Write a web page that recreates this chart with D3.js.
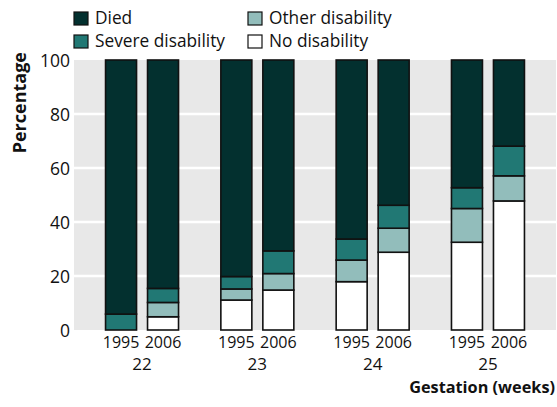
<!DOCTYPE html>
<html>
<head>
<meta charset="utf-8">
<script src="https://cdn.jsdelivr.net/npm/d3@7"></script>
<style>
  body { margin: 0; background: #fff; }
  text { font-family: "Open Sans", "Noto Sans", sans-serif; fill: #111; }
</style>
</head>
<body>
<script>
// gestation weeks and the two cohorts
var weeks = ["22", "23", "24", "25"];
var years = ["1995", "2006"];

// percentages, order: 22/1995, 22/2006, 23/1995, 23/2006, ...
var noDisability     = [0, 4.9, 11.1, 14.8, 17.9, 28.8, 32.5, 47.8];
var otherDisability  = [0, 5.3, 4.1, 6.1, 8.0, 8.9, 12.5, 9.3];
var severeDisability = [5.9, 5.2, 4.6, 8.4, 7.8, 8.5, 7.7, 11.0];
var died             = [94.1, 84.6, 80.2, 70.7, 66.3, 53.8, 47.3, 31.9];

var yTicks = [0, 20, 40, 60, 80, 100];

var keys = ["none", "other", "severe", "died"];
var labels = {died: "Died", severe: "Severe disability", other: "Other disability", none: "No disability"};
var colors = {died: "#03302f", severe: "#217874", other: "#92bdbb", none: "#ffffff"};

// build rows for the stack
var rows = [];
weeks.forEach(function(w, i) {
  years.forEach(function(yr, j) {
    var k = i * 2 + j;
    rows.push({week: w, year: yr, none: noDisability[k], other: otherDisability[k],
               severe: severeDisability[k], died: died[k]});
  });
});

var width = 557, height = 407;
var plot = {left: 74, right: 556, top: 60, bottom: 330};

var svg = d3.select("body").append("svg")
    .attr("width", width)
    .attr("height", height);

var x0 = d3.scaleBand().domain(weeks)
    .range([plot.left, plot.right])
    .paddingInner(0).paddingOuter(0.09);

var x1 = d3.scaleBand().domain(years)
    .range([0, x0.bandwidth()])
    .paddingInner(0.262).paddingOuter(0.504);

var y = d3.scaleLinear().domain([0, 100]).range([plot.bottom, plot.top]);

// grey panel
svg.append("rect")
    .attr("x", plot.left).attr("y", plot.top)
    .attr("width", plot.right - plot.left)
    .attr("height", plot.bottom - plot.top)
    .attr("fill", "#e8e8e8");

// white gridlines
svg.append("g").selectAll("line")
    .data(yTicks.filter(function(t) { return t > 0 && t < 100; }))
    .enter().append("line")
    .attr("x1", plot.left).attr("x2", plot.right)
    .attr("y1", function(d) { return y(d); })
    .attr("y2", function(d) { return y(d); })
    .attr("stroke", "#fff").attr("stroke-width", 2.5);

// y axis
var yAxis = svg.append("g")
    .attr("transform", "translate(" + (plot.left - 4) + ",0)")
    .call(d3.axisLeft(y).tickValues(yTicks).tickSize(0).tickPadding(0));
yAxis.select(".domain").remove();
yAxis.selectAll("text")
    .style("font-size", "17.5px")
    .attr("dy", "0.36em");

svg.append("text")
    .attr("transform", "translate(26,52) rotate(-90)")
    .style("text-anchor", "end")
    .style("font-size", "18px")
    .style("font-weight", "bold")
    .text("Percentage");

// stacked bars
var series = d3.stack().keys(keys)(rows);

svg.append("g").selectAll("g")
    .data(series)
    .enter().append("g")
    .attr("fill", function(d) { return colors[d.key]; })
    .selectAll("rect")
    .data(function(d) { return d.filter(function(s) { return s[1] - s[0] > 0; }); })
    .enter().append("rect")
    .attr("x", function(d) { return x0(d.data.week) + x1(d.data.year); })
    .attr("y", function(d) { return y(d[1]); })
    .attr("width", x1.bandwidth())
    .attr("height", function(d) { return y(d[0]) - y(d[1]); })
    .attr("stroke", "#111")
    .attr("stroke-width", 1.6);

// year labels under each bar
svg.append("g").selectAll("text")
    .data(rows)
    .enter().append("text")
    .attr("x", function(d) { return x0(d.week) + x1(d.year) + x1.bandwidth() / 2; })
    .attr("y", 348)
    .style("text-anchor", "middle")
    .style("font-size", "16px")
    .text(function(d) { return d.year; });

// week labels
svg.append("g").selectAll("text")
    .data(weeks)
    .enter().append("text")
    .attr("x", function(d) { return x0(d) + x0.bandwidth() / 2; })
    .attr("y", 370)
    .style("text-anchor", "middle")
    .style("font-size", "17px")
    .text(function(d) { return d; });

svg.append("text")
    .attr("x", 555).attr("y", 393)
    .style("text-anchor", "end")
    .style("font-size", "16.3px")
    .style("font-weight", "bold")
    .text("Gestation (weeks)");

// legend
var legendItems = [
  {key: "died", x: 74, y: 12},
  {key: "other", x: 248, y: 12},
  {key: "severe", x: 74, y: 35},
  {key: "none", x: 248, y: 35}
];
var lg = svg.append("g").selectAll("g")
    .data(legendItems)
    .enter().append("g")
    .attr("transform", function(d) { return "translate(" + d.x + "," + d.y + ")"; });
lg.append("rect")
    .attr("width", 14).attr("height", 13)
    .attr("fill", function(d) { return colors[d.key]; })
    .attr("stroke", "#111").attr("stroke-width", 1.2);
lg.append("text")
    .attr("x", 21).attr("y", 12)
    .style("font-size", "17.3px")
    .text(function(d) { return labels[d.key]; });
</script>
</body>
</html>
